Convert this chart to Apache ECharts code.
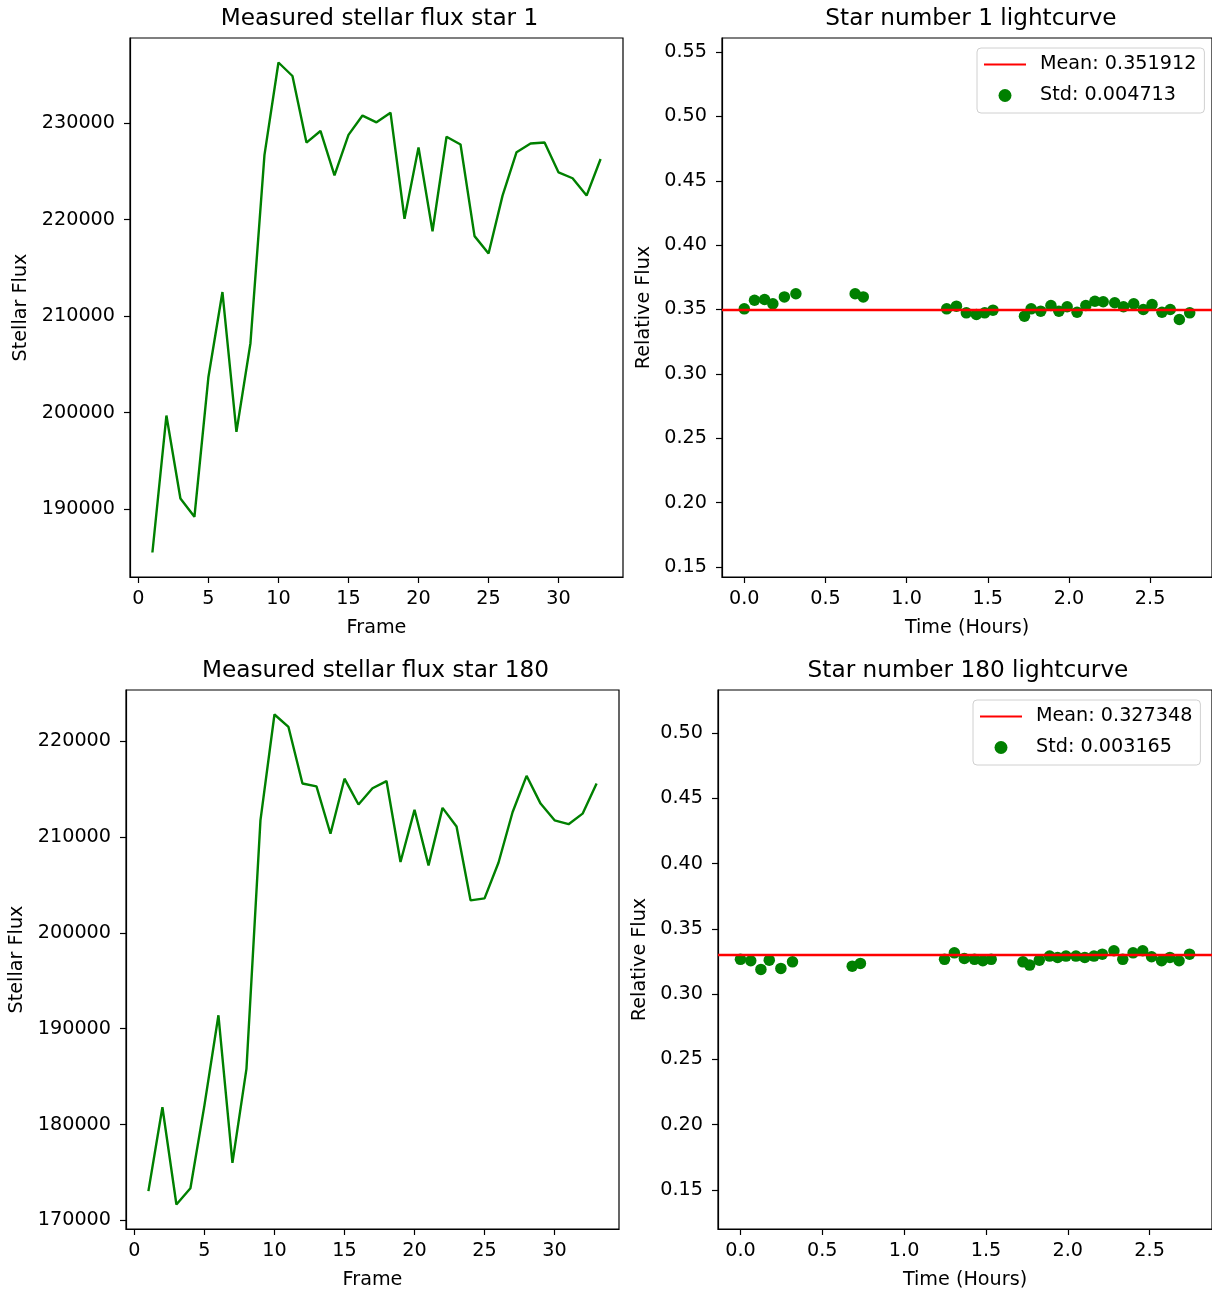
<!DOCTYPE html>
<html>
<head>
<meta charset="utf-8">
<script src="https://cdn.jsdelivr.net/npm/echarts@6/dist/echarts.min.js"></script>
<style>
html,body{margin:0;padding:0;background:#fff;}
#chart{width:1212px;height:1294px;}
</style>
</head>
<body>
<div id="chart"></div>
<script>
// ---- Data ----
const frames = [1,2,3,4,5,6,7,8,9,10,11,12,13,14,15,16,17,18,19,20,21,22,23,24,25,26,27,28,29,30,31,32,33];
const flux1 = [185500,199700,191100,189200,203700,212500,198000,207200,226700,236300,234900,228000,229200,224600,228800,230800,230100,231100,220100,227500,218800,228600,227800,218300,216500,222500,227000,227900,228000,224900,224300,222500,226300];
const flux180 = [173050,181800,171650,173350,182000,191400,176000,185800,211750,222800,221500,215600,215300,210350,216100,213400,215100,215850,207400,212850,207050,213050,211100,203400,203600,207350,212600,216400,213500,211750,211350,212450,215600];
const hours = [0.0,0.063,0.125,0.176,0.247,0.318,0.683,0.733,1.247,1.307,1.368,1.430,1.481,1.532,1.726,1.767,1.826,1.889,1.938,1.989,2.050,2.104,2.160,2.211,2.282,2.336,2.399,2.458,2.512,2.573,2.624,2.680,2.744];
const rel1 = [0.3505,0.3572,0.3578,0.3544,0.3598,0.3622,0.3622,0.3598,0.3505,0.3526,0.3474,0.3461,0.3474,0.3495,0.3448,0.3505,0.3487,0.3531,0.3487,0.3521,0.3479,0.3531,0.3564,0.3560,0.3552,0.3521,0.3544,0.3500,0.3539,0.3479,0.3500,0.3422,0.3474];
const rel180 = [0.3266,0.3255,0.3189,0.3260,0.3197,0.3247,0.3214,0.3235,0.3266,0.3316,0.3273,0.3266,0.3255,0.3266,0.3247,0.3222,0.3260,0.3291,0.3281,0.3291,0.3291,0.3281,0.3291,0.3306,0.3332,0.3266,0.3316,0.3332,0.3286,0.3255,0.3281,0.3255,0.3306];
const mean1 = 0.351912, std1 = 0.004713;
const mean180 = 0.327348, std180 = 0.003165;
const frameTicks = [0,5,10,15,20,25,30];
const flux1Ticks = [190000,200000,210000,220000,230000];
const flux180Ticks = [170000,180000,190000,200000,210000,220000];
const hourTicks = [0.0,0.5,1.0,1.5,2.0,2.5];
const rel1Ticks = [0.15,0.20,0.25,0.30,0.35,0.40,0.45,0.50,0.55];
const rel180Ticks = [0.15,0.20,0.25,0.30,0.35,0.40,0.45,0.50];
const titles = ['Measured stellar flux star 1','Star number 1 lightcurve','Measured stellar flux star 180','Star number 180 lightcurve'];

// ---- Chart ----
const FONT = 'DejaVu Sans';
const TICK_FS = 19.2, TITLE_FS = 23.2;
const GREEN = '#008000', RED = '#ff0000';

const grids = [
  {left:130, top:38, width:493, height:539},
  {left:722, top:38, width:492, height:539},
  {left:126, top:690, width:493, height:539},
  {left:718, top:690, width:494, height:539}
];

function lim(vals, frac){ // matplotlib-like 5% autoscale margins
  const mn = Math.min(...vals), mx = Math.max(...vals), d = (mx-mn)*frac;
  return [mn-d, mx+d];
}

function xAxis(gi, ticks, range, name, fmt){
  return {
    type:'value', gridIndex:gi, min:range[0], max:range[1],
    name:name, nameLocation:'middle', nameGap:42,
    nameTextStyle:{fontFamily:FONT,fontSize:TICK_FS,color:'#000'},
    axisLine:{show:true,onZero:false,lineStyle:{color:'#000',width:1.2}},
    axisTick:{show:true,length:6,inside:false,customValues:ticks,lineStyle:{color:'#000',width:1.2}},
    axisLabel:{show:true,customValues:ticks,margin:13,fontFamily:FONT,fontSize:TICK_FS,color:'#000',
      formatter:fmt, showMinLabel:true, showMaxLabel:true},
    splitLine:{show:false}
  };
}
function yAxis(gi, ticks, range, name, gap, fmt){
  return {
    type:'value', gridIndex:gi, min:range[0], max:range[1],
    name:name, nameLocation:'middle', nameGap:gap, nameRotate:90,
    nameTextStyle:{fontFamily:FONT,fontSize:TICK_FS,color:'#000'},
    axisLine:{show:true,onZero:false,lineStyle:{color:'#000',width:1.2}},
    axisTick:{show:true,length:6,inside:false,customValues:ticks,lineStyle:{color:'#000',width:1.2}},
    axisLabel:{show:true,customValues:ticks,margin:15,fontFamily:FONT,fontSize:TICK_FS,color:'#000',formatter:fmt},
    splitLine:{show:false}
  };
}

const frameRange = lim(frames, 0.05);
const hourRange = lim(hours, 0.05);
const f1Range = lim(flux1, 0.05);
const f180Range = lim(flux180, 0.05);
const r1Range = [0.1422, 0.5609];
const r180Range = [0.1201, 0.5329];

const intFmt = v => String(Math.round(v));
const h1 = v => v.toFixed(1);
const r2 = v => v.toFixed(2);

const meanName1 = 'Mean: ' + mean1.toFixed(6), stdName1 = 'Std: ' + std1.toFixed(6);
const meanName180 = 'Mean: ' + mean180.toFixed(6), stdName180 = 'Std: ' + std180.toFixed(6);

function mkTitle(i){
  const g = grids[i];
  return {text:titles[i], left:g.left + g.width/2 - 2, top:g.top - 36, textAlign:'center',
    textStyle:{fontFamily:FONT,fontSize:TITLE_FS,fontWeight:'normal',color:'#000'}};
}

const lineIcon = 'path://M0,6 L40,6 L40,8 L0,8 Z';
function mkLegend(left, top, meanName, stdName){
  return {
    orient:'vertical', left:left, top:top,
    backgroundColor:'rgba(255,255,255,0.8)', borderColor:'#d0d0d0', borderWidth:1, borderRadius:4,
    padding:[7,8,8,7], itemGap:12, itemWidth:42, itemHeight:13,
    textStyle:{fontFamily:FONT,fontSize:TICK_FS,color:'#000',padding:[0,0,0,9]},
    data:[{name:meanName, icon:lineIcon, itemStyle:{color:RED}}, {name:stdName, icon:'circle'}]
  };
}

const option = {
  animation:false,
  backgroundColor:'#fff',
  title:[mkTitle(0),mkTitle(1),mkTitle(2),mkTitle(3)],
  grid:grids.map(g => Object.assign({show:true,borderColor:'#000',borderWidth:1.2,backgroundColor:'transparent'}, g)),
  legend:[mkLegend(977, 48, meanName1, stdName1), mkLegend(973, 700, meanName180, stdName180)],
  xAxis:[
    xAxis(0, frameTicks, frameRange, 'Frame', intFmt),
    xAxis(1, hourTicks, hourRange, 'Time (Hours)', h1),
    xAxis(2, frameTicks, frameRange, 'Frame', intFmt),
    xAxis(3, hourTicks, hourRange, 'Time (Hours)', h1)
  ],
  yAxis:[
    yAxis(0, flux1Ticks, f1Range, 'Stellar Flux', 99, intFmt),
    yAxis(1, rel1Ticks, r1Range, 'Relative Flux', 68, r2),
    yAxis(2, flux180Ticks, f180Range, 'Stellar Flux', 99, intFmt),
    yAxis(3, rel180Ticks, r180Range, 'Relative Flux', 68, r2)
  ],
  series:[
    {type:'line', xAxisIndex:0, yAxisIndex:0, data:frames.map((f,i)=>[f,flux1[i]]),
      showSymbol:false, lineStyle:{color:GREEN,width:2.4}, itemStyle:{color:GREEN}},
    {type:'line', xAxisIndex:2, yAxisIndex:2, data:frames.map((f,i)=>[f,flux180[i]]),
      showSymbol:false, lineStyle:{color:GREEN,width:2.4}, itemStyle:{color:GREEN}},
    {type:'scatter', name:stdName1, xAxisIndex:1, yAxisIndex:1, data:hours.map((h,i)=>[h,rel1[i]]),
      symbolSize:11.5, itemStyle:{color:GREEN,opacity:1}, z:2},
    {type:'line', name:meanName1, xAxisIndex:1, yAxisIndex:1, data:[], z:5,
      lineStyle:{color:RED,width:2.4}, itemStyle:{color:RED},
      markLine:{silent:true, symbol:['none','none'], label:{show:false},
        lineStyle:{color:RED,width:2.4,type:'solid'}, data:[{yAxis:mean1}]}},
    {type:'scatter', name:stdName180, xAxisIndex:3, yAxisIndex:3, data:hours.map((h,i)=>[h,rel180[i]]),
      symbolSize:11.5, itemStyle:{color:GREEN,opacity:1}, z:2},
    {type:'line', name:meanName180, xAxisIndex:3, yAxisIndex:3, data:[], z:5,
      lineStyle:{color:RED,width:2.4}, itemStyle:{color:RED},
      markLine:{silent:true, symbol:['none','none'], label:{show:false},
        lineStyle:{color:RED,width:2.4,type:'solid'}, data:[{yAxis:mean180}]}}
  ]
};

const chart = echarts.init(document.getElementById('chart'), null, {renderer:'canvas'});
chart.setOption(option);
</script>
</body>
</html>
